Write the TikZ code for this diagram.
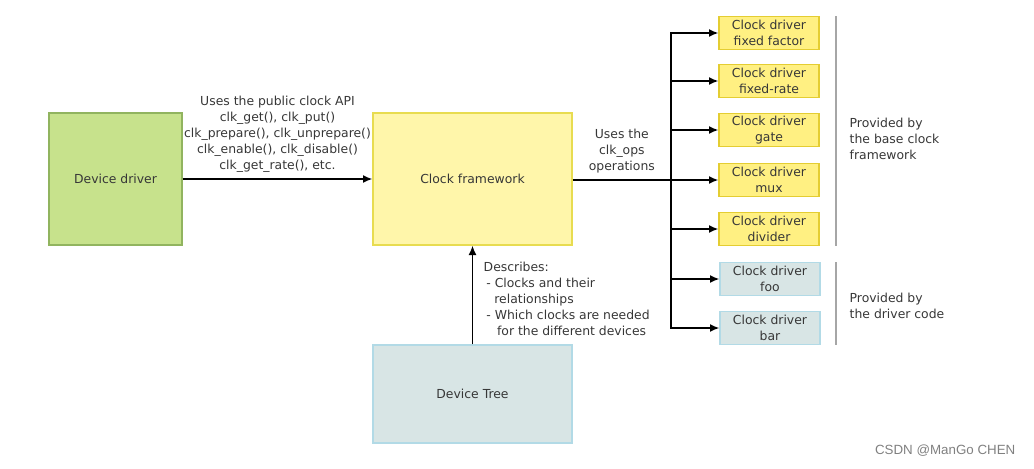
\documentclass[tikz,border=0pt]{standalone}
\usepackage{fontspec}
\setmainfont{DejaVu Sans}
\newfontfamily\wmfont{Liberation Sans}
\usetikzlibrary{arrows.meta}
\definecolor{ddfill}{RGB}{199,226,140}
\definecolor{dddraw}{RGB}{145,180,95}
\definecolor{cffill}{RGB}{255,246,170}
\definecolor{cfdraw}{RGB}{232,220,80}
\definecolor{drvfill}{RGB}{255,240,130}
\definecolor{drvdraw}{RGB}{228,205,50}
\definecolor{dtfill}{RGB}{216,229,229}
\definecolor{dtdraw}{RGB}{178,218,230}
\definecolor{txt}{RGB}{55,55,55}
\begin{document}
\begin{tikzpicture}[x=0.75pt, y=-0.75pt,
  every node/.style={text=txt, font=\fontsize{9.3}{12}\selectfont},
  bigbox/.style={draw, line width=1pt, minimum width=149.25pt, minimum height=99pt, inner sep=0pt},
  drvbox/.style={draw=drvdraw, fill=drvfill, line width=1pt, minimum width=75pt, minimum height=24.75pt, inner sep=0pt, align=center},
  blubox/.style={drvbox, draw=dtdraw, fill=dtfill},
  conn/.style={line width=1.1pt, -{Latex[length=7pt, width=6pt]}},
  sep/.style={draw=gray!70, line width=0.9pt}]
  \useasboundingbox (0,0) rectangle (1034,468);

  \node[bigbox, draw=dddraw, fill=ddfill, minimum width=99.75pt] (dd) at (115.5,179) {Device driver};
  \node[bigbox, draw=cfdraw, fill=cffill] (cf) at (472.5,179) {Clock framework};
  \node[bigbox, draw=dtdraw, fill=dtfill, minimum height=73.5pt] (dt) at (472.5,394) {Device Tree};

  \draw[conn] (dd) -- (cf)
    node[midway, above=1pt, align=center] {Uses the public clock API\\ clk\_get(), clk\_put()\\ clk\_prepare(), clk\_unprepare()\\ clk\_enable(), clk\_disable()\\ clk\_get\_rate(), etc.};
  \draw[conn] (dt) -- (cf);
  \node[anchor=north west, align=left] (desc) at (479,257) {Describes:\\ \hspace{2pt}- Clocks and their\\ \hspace{8pt}relationships\\ \hspace{2pt}- Which clocks are needed\\ \hspace{10pt}for the different devices};

  % clock drivers
  \node[drvbox] (ff) at (769,33) {Clock driver\\ fixed factor};
  \node[drvbox] (fr) at (769,81) {Clock driver\\ fixed-rate};
  \node[drvbox] (gate) at (769,130) {Clock driver\\ gate};
  \node[drvbox] (mux) at (769,180) {Clock driver\\ mux};
  \node[drvbox] (div) at (769,229) {Clock driver\\ divider};
  \node[blubox] (foo) at (770,279) {Clock driver\\ foo};
  \node[blubox] (bar) at (770,328) {Clock driver\\ bar};

  \coordinate (split) at (671,180);
  \draw[line width=1.1pt] (cf.east |- split) -- (split)
    node[midway, above=1pt, align=center] {Uses the\\ clk\_ops\\ operations};
  \foreach \d in {ff,fr,gate,mux,div,foo,bar}
    \draw[conn] (split) |- (\d.west);

  \coordinate (b1) at (836,16);
  \coordinate (b2) at (836,246);
  \coordinate (b3) at (836,262);
  \coordinate (b4) at (836,345);
  \draw[sep] (b1) -- (b2);
  \draw[sep] (b3) -- (b4);
  \node[anchor=west, align=left] (base) at (845,139) {Provided by\\ the base clock\\ framework};
  \node[anchor=west, align=left] (drv) at (845,306) {Provided by\\ the driver code};

  \node[anchor=east, text=gray, font=\wmfont\fontsize{10}{12}\selectfont] (wm) at (1020,451) {CSDN @ManGo CHEN};
\end{tikzpicture}
\end{document}
